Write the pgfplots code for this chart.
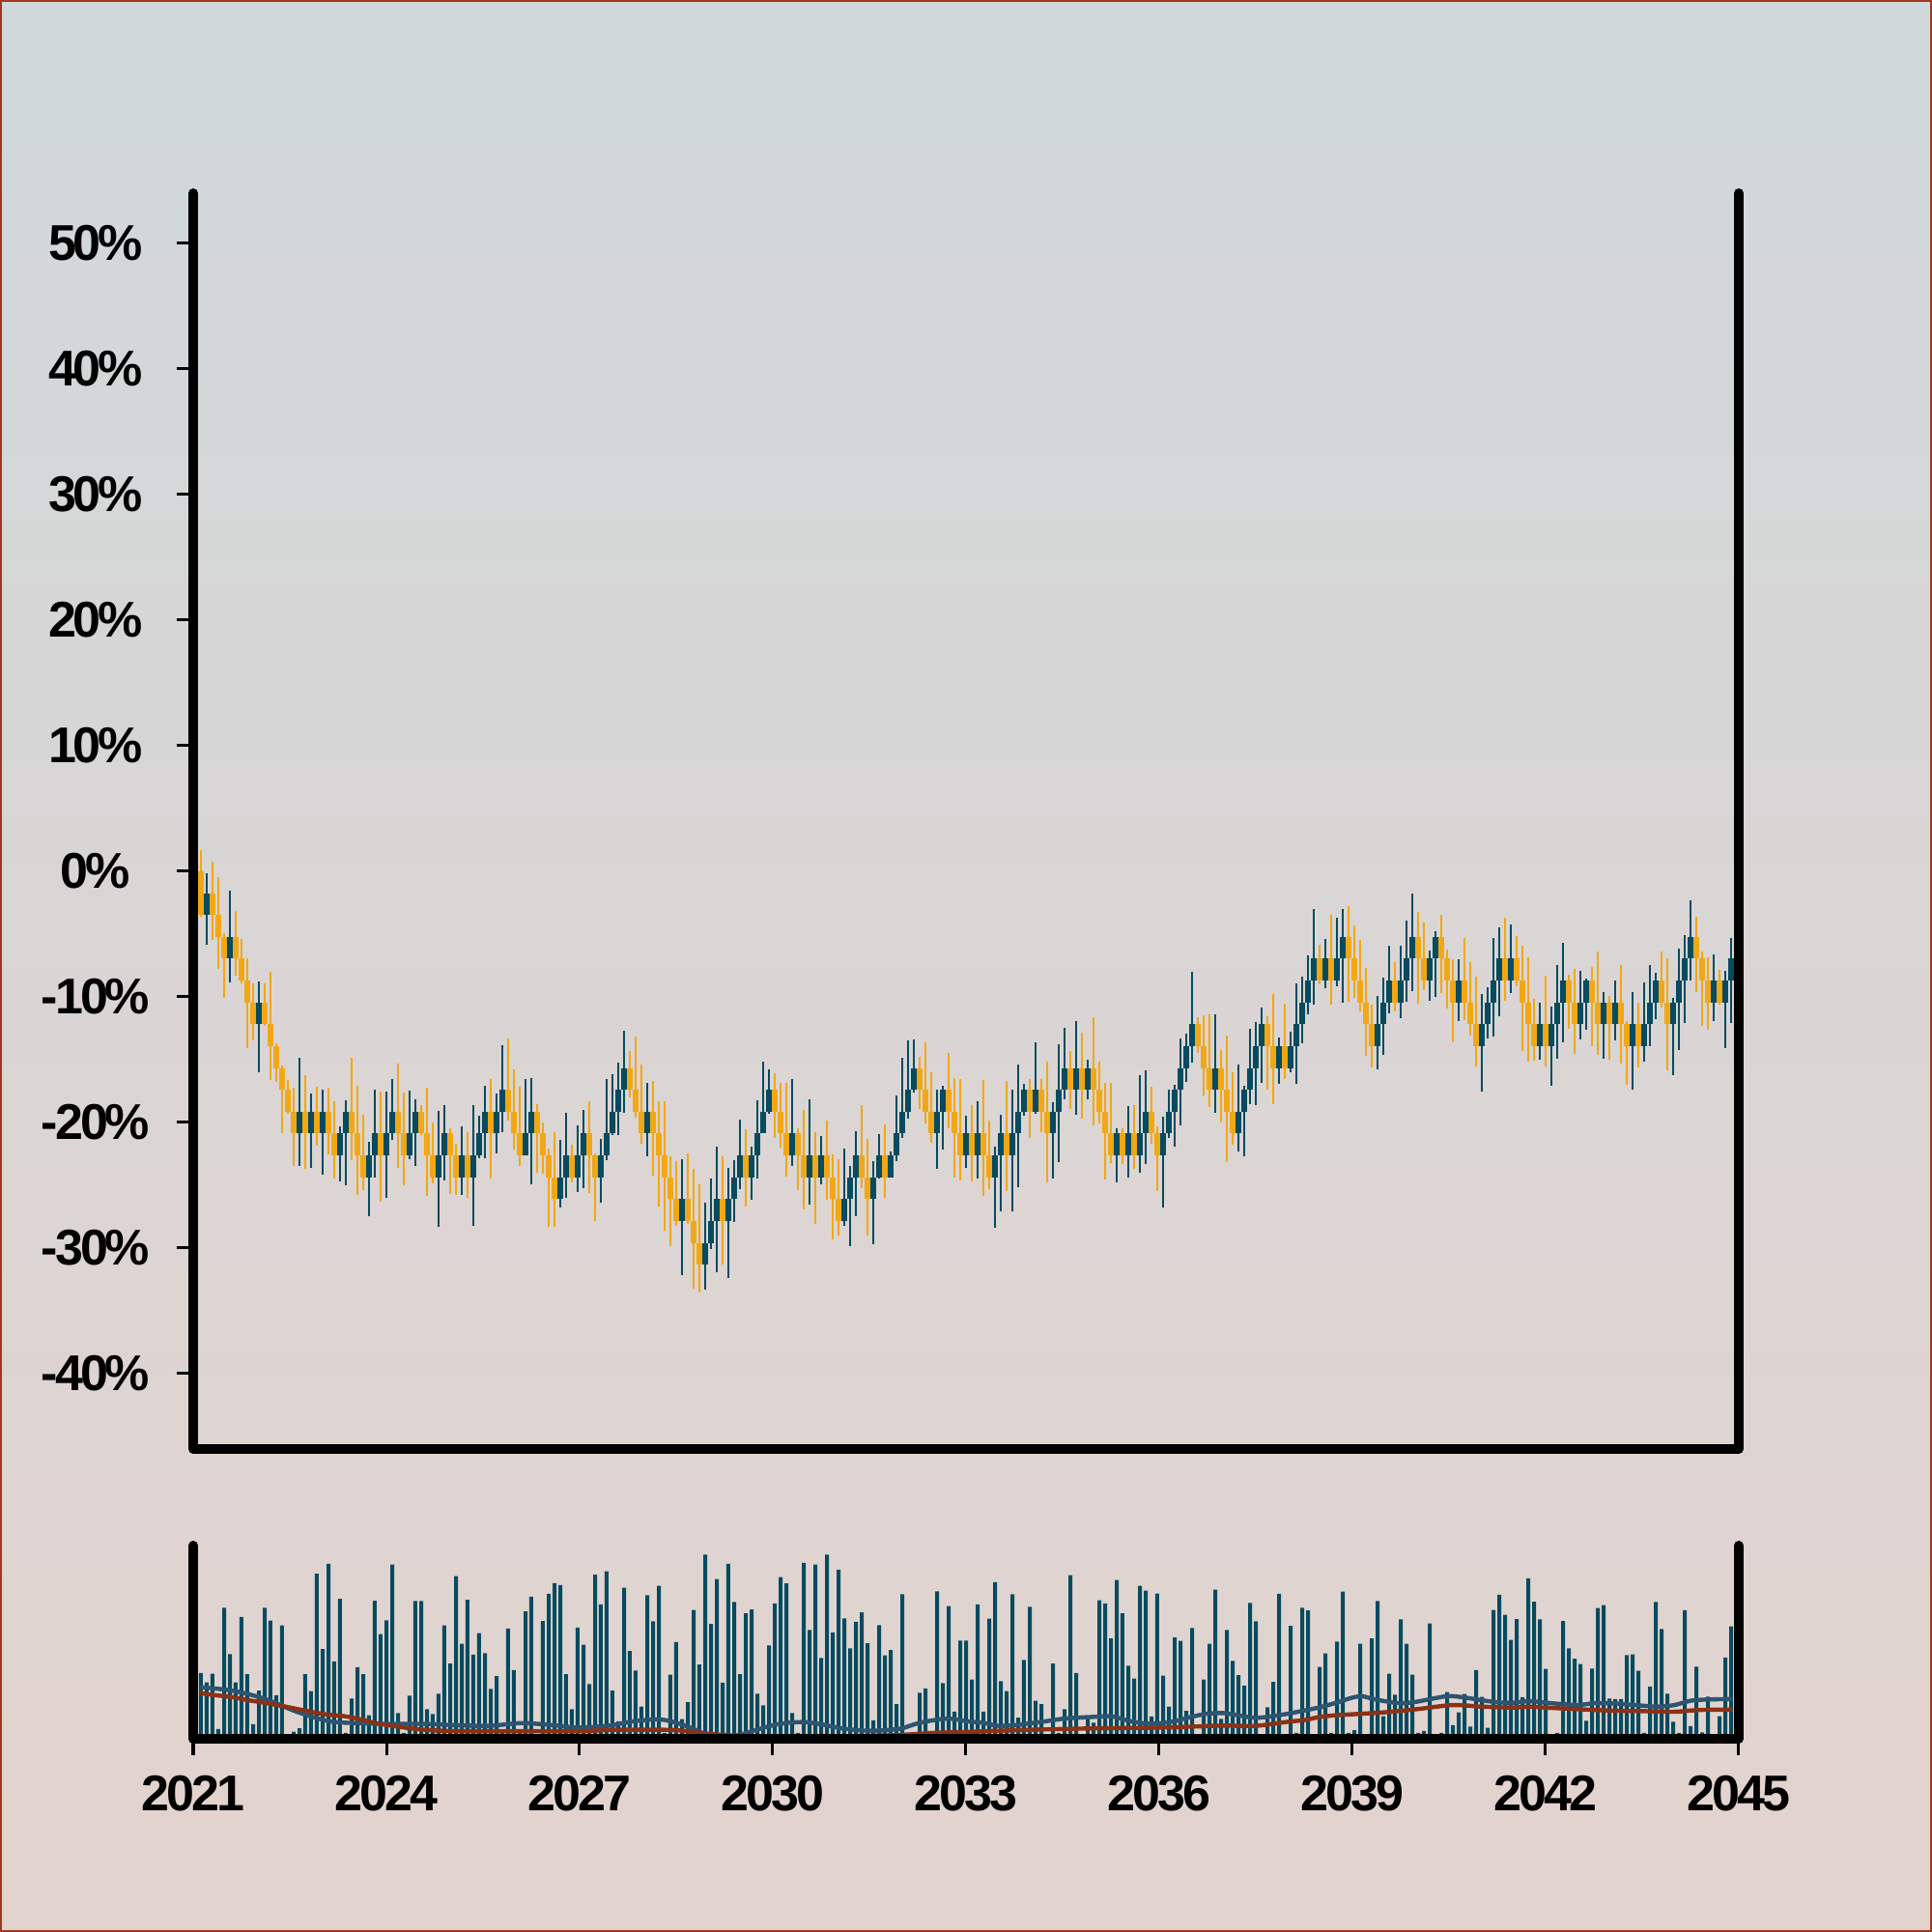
\documentclass[border=0pt]{standalone}
\usepackage{fontspec}
\newfontfamily\lblfont[LetterSpace=-6]{Liberation Sans}
\usepackage{pgfplots}
\usepackage{pgfplotstable}
\pgfplotsset{compat=1.18}

\definecolor{upC}{HTML}{064B5F}
\definecolor{downC}{HTML}{F2A714}
\definecolor{maBlue}{HTML}{2D5470}
\definecolor{maRust}{HTML}{8A3217}
\definecolor{bgTop}{HTML}{D0D8DB}
\definecolor{bgBot}{HTML}{E3D3CE}
\definecolor{bordC}{HTML}{9C3A1C}

% falling candles, wicks: j = period index, h l in percent
\pgfplotstableread[row sep=\\]{
j h l\\
0 1.69 -3.6\\ 2 0.80 -5.44\\ 3 -0.49 -7.80\\ 4 -4.9 -10.11\\ 6 -3.18 -8.31\\ 7 -5.36 -8.9\\ 8 -6.90 -14.09\\ 9 -8.96 -13.45\\
11 -8.96 -12.3\\ 12 -8.01 -16.65\\ 13 -13.7 -16.78\\ 14 -15.5 -20.84\\ 15 -16.65 -19.3\\ 16 -17.24 -23.45\\ 18 -16.22 -23.71\\ 20 -17.17 -21.86\\
22 -17.24 -22.56\\ 23 -18.27 -24.48\\ 26 -14.81 -22.99\\ 27 -17.04 -25.76\\ 28 -19.42 -25.38\\ 31 -17.55 -26.28\\ 34 -15.32 -23.63\\ 35 -17.6 -24.99\\
38 -18.63 -21.0\\ 39 -17.24 -25.81\\ 40 -19.99 -24.86\\ 43 -20.5 -25.69\\ 44 -21.66 -25.76\\ 46 -20.76 -26.02\\ 50 -16.53 -24.48\\ 53 -13.27 -19.86\\
54 -15.76 -22.17\\ 55 -17.17 -23.45\\ 58 -18.53 -24.02\\ 59 -19.99 -24.1\\ 60 -22.04 -28.33\\ 61 -20.76 -28.33\\ 64 -21.78 -24.74\\ 67 -18.32 -25.58\\
68 -22.5 -27.82\\ 74 -14.34 -18.0\\ 75 -13.19 -19.61\\ 76 -15.42 -21.66\\ 78 -16.7 -24.22\\ 79 -18.32 -26.71\\ 80 -18.32 -28.64\\ 81 -22.68 -29.87\\
82 -23.09 -28.25\\ 84 -22.48 -28.07\\ 85 -23.66 -33.21\\ 86 -24.92 -33.51\\ 90 -22.68 -31.33\\ 94 -20.55 -26.71\\ 99 -16.06 -21.2\\ 100 -16.86 -22.02\\
101 -16.83 -24.3\\ 103 -20.5 -25.38\\ 104 -19.01 -26.92\\ 106 -20.76 -28.07\\ 108 -19.81 -26.15\\ 109 -22.56 -29.28\\ 110 -22.89 -29.02\\ 114 -18.65 -25.2\\
115 -21.3 -28.97\\ 118 -20.17 -25.97\\ 124 -14.78 -18.9\\ 125 -13.58 -20.07\\ 126 -16.01 -21.61\\ 129 -14.47 -20.5\\ 130 -16.47 -24.35\\ 131 -16.53 -24.61\\
133 -18.65 -24.69\\ 135 -16.65 -25.81\\ 136 -19.81 -25.33\\ 139 -16.7 -25.45\\ 143 -16.57 -21.2\\ 145 -16.53 -20.76\\ 146 -15.19 -24.79\\ 150 -14.27 -18.96\\
152 -12.86 -19.68\\ 154 -11.6 -20.25\\ 155 -15.19 -20.07\\ 156 -16.83 -24.56\\ 157 -16.86 -23.2\\ 159 -20.5 -23.27\\ 161 -18.58 -23.66\\ 164 -17.17 -21.73\\
165 -20.32 -25.43\\ 172 -11.65 -14.47\\ 173 -11.45 -17.81\\ 174 -11.39 -18.78\\ 176 -14.22 -19.99\\ 177 -13.11 -23.12\\ 178 -16.01 -21.79\\ 184 -11.52 -17.37\\
185 -9.78 -18.53\\ 187 -10.55 -16.53\\ 193 -5.83 -9.01\\ 195 -3.5 -10.62\\ 198 -2.8 -10.37\\ 199 -4.29 -10.11\\ 200 -5.44 -11.14\\ 201 -7.72 -14.73\\
202 -10.62 -15.63\\ 206 -7.24 -11.19\\ 210 -3.2 -10.57\\ 211 -4.08 -9.47\\ 214 -3.5 -9.67\\ 215 -6.21 -10.93\\ 216 -7.03 -13.65\\ 218 -5.29 -11.86\\
219 -7.24 -13.06\\ 220 -8.37 -15.55\\ 225 -3.7 -10.32\\ 227 -5.18 -9.14\\ 228 -5.95 -14.34\\ 229 -6.85 -15.19\\ 230 -10.19 -15.06\\ 232 -8.32 -15.55\\
236 -8.26 -12.55\\ 237 -7.75 -14.52\\ 240 -7.62 -13.96\\ 241 -6.39 -14.6\\ 243 -9.9 -14.99\\ 245 -7.49 -15.29\\ 246 -11.91 -16.99\\ 248 -10.5 -15.63\\
252 -6.39 -10.88\\ 253 -6.95 -15.88\\ 258 -3.62 -9.6\\ 259 -6.39 -12.29\\ 260 -6.83 -12.6\\ 262 -7.85 -10.6\\
}\downW

% falling candles, bodies: lo = close, hi = open
\pgfplotstableread[row sep=\\]{
j lo hi\\
0 -3.48 0\\ 2 -3.48 -1.74\\ 3 -5.22 -3.48\\ 4 -6.96 -5.22\\ 6 -6.96 -5.22\\ 7 -8.70 -6.96\\ 8 -10.44 -8.70\\ 9 -12.18 -10.44\\
11 -12.18 -10.44\\ 12 -13.92 -12.18\\ 13 -15.66 -13.92\\ 14 -17.40 -15.66\\ 15 -19.14 -17.40\\ 16 -20.88 -19.14\\ 18 -20.88 -19.14\\ 20 -20.88 -19.14\\
22 -20.88 -19.14\\ 23 -22.62 -20.88\\ 26 -20.88 -19.14\\ 27 -22.62 -20.88\\ 28 -24.36 -22.62\\ 31 -22.62 -20.88\\ 34 -20.88 -19.14\\ 35 -22.62 -20.88\\
38 -20.88 -19.14\\ 39 -22.62 -20.88\\ 40 -24.36 -22.62\\ 43 -22.62 -20.88\\ 44 -24.36 -22.62\\ 46 -24.36 -22.62\\ 50 -20.88 -19.14\\ 53 -19.14 -17.40\\
54 -20.88 -19.14\\ 55 -22.62 -20.88\\ 58 -20.88 -19.14\\ 59 -22.62 -20.88\\ 60 -24.36 -22.62\\ 61 -26.10 -24.36\\ 64 -24.36 -22.62\\ 67 -22.62 -20.88\\
68 -24.36 -22.62\\ 74 -17.40 -15.66\\ 75 -19.14 -17.40\\ 76 -20.88 -19.14\\ 78 -20.88 -19.14\\ 79 -22.62 -20.88\\ 80 -24.36 -22.62\\ 81 -26.10 -24.36\\
82 -27.84 -26.10\\ 84 -27.84 -26.10\\ 85 -29.58 -27.84\\ 86 -31.32 -29.58\\ 90 -27.84 -26.10\\ 94 -24.36 -22.62\\ 99 -19.14 -17.40\\ 100 -20.88 -19.14\\
101 -22.62 -20.88\\ 103 -22.62 -20.88\\ 104 -24.36 -22.62\\ 106 -24.36 -22.62\\ 108 -24.36 -22.62\\ 109 -26.10 -24.36\\ 110 -27.84 -26.10\\ 114 -24.36 -22.62\\
115 -26.10 -24.36\\ 118 -24.36 -22.62\\ 124 -17.40 -15.66\\ 125 -19.14 -17.40\\ 126 -20.88 -19.14\\ 129 -19.14 -17.40\\ 130 -20.88 -19.14\\ 131 -22.62 -20.88\\
133 -22.62 -20.88\\ 135 -22.62 -20.88\\ 136 -24.36 -22.62\\ 139 -22.62 -20.88\\ 143 -19.14 -17.40\\ 145 -19.14 -17.40\\ 146 -20.88 -19.14\\ 150 -17.40 -15.66\\
152 -17.40 -15.66\\ 154 -17.40 -15.66\\ 155 -19.14 -17.40\\ 156 -20.88 -19.14\\ 157 -22.62 -20.88\\ 159 -22.62 -20.88\\ 161 -22.62 -20.88\\ 164 -20.88 -19.14\\
165 -22.62 -20.88\\ 172 -13.92 -12.18\\ 173 -15.66 -13.92\\ 174 -17.40 -15.66\\ 176 -17.40 -15.66\\ 177 -19.14 -17.40\\ 178 -20.88 -19.14\\ 184 -13.92 -12.18\\
185 -15.66 -13.92\\ 187 -15.66 -13.92\\ 193 -8.70 -6.96\\ 195 -8.70 -6.96\\ 198 -6.96 -5.22\\ 199 -8.70 -6.96\\ 200 -10.44 -8.70\\ 201 -12.18 -10.44\\
202 -13.92 -12.18\\ 206 -10.44 -8.70\\ 210 -6.96 -5.22\\ 211 -8.70 -6.96\\ 214 -6.96 -5.22\\ 215 -8.70 -6.96\\ 216 -10.44 -8.70\\ 218 -10.44 -8.70\\
219 -12.18 -10.44\\ 220 -13.92 -12.18\\ 225 -8.70 -6.96\\ 227 -8.70 -6.96\\ 228 -10.44 -8.70\\ 229 -12.18 -10.44\\ 230 -13.92 -12.18\\ 232 -13.92 -12.18\\
236 -10.44 -8.70\\ 237 -12.18 -10.44\\ 240 -10.44 -8.70\\ 241 -12.18 -10.44\\ 243 -12.18 -10.44\\ 245 -12.18 -10.44\\ 246 -13.92 -12.18\\ 248 -13.92 -12.18\\
252 -10.44 -8.70\\ 253 -12.18 -10.44\\ 258 -6.96 -5.22\\ 259 -8.70 -6.96\\ 260 -10.44 -8.70\\ 262 -10.44 -8.70\\
}\downB

% rising candles: j o c h l in percent
\pgfplotstableread[row sep=\\]{
j o c h l\\
1 -3.48 -1.74 -0.15 -5.88\\ 5 -6.96 -5.22 -1.51 -8.83\\ 10 -12.18 -10.44 -8.78 -16.01\\ 17 -20.88 -19.14 -14.81 -23.45\\
19 -20.88 -19.14 -17.68 -23.58\\ 21 -20.88 -19.14 -17.37 -24.15\\ 24 -22.62 -20.88 -20.32 -24.69\\ 25 -20.88 -19.14 -18.22 -24.99\\
29 -24.36 -22.62 -21.55 -27.43\\ 30 -22.62 -20.88 -17.42 -24.35\\ 32 -22.62 -20.88 -17.55 -26.02\\ 33 -20.88 -19.14 -16.53 -21.4\\
36 -22.62 -20.88 -17.5 -22.94\\ 37 -20.88 -19.14 -18.12 -23.45\\ 41 -24.36 -22.62 -19.09 -28.33\\ 42 -22.62 -20.88 -18.58 -24.61\\
45 -24.36 -22.62 -20.32 -25.76\\ 47 -24.36 -22.62 -18.58 -28.2\\ 48 -22.62 -20.88 -19.5 -22.81\\ 49 -20.88 -19.14 -17.04 -22.81\\
51 -20.88 -19.14 -17.68 -22.43\\ 52 -19.14 -17.40 -13.83 -20.76\\ 56 -22.62 -20.88 -16.53 -22.56\\ 57 -20.88 -19.14 -16.45 -24.92\\
62 -26.10 -24.36 -21.4 -26.79\\ 63 -24.36 -22.62 -19.22 -26.02\\ 65 -24.36 -22.62 -20.25 -25.51\\ 66 -22.62 -20.88 -19.0 -25.2\\
69 -24.36 -22.62 -21.27 -26.4\\ 70 -22.62 -20.88 -16.53 -23.0\\ 71 -20.88 -19.14 -16.19 -21.02\\ 72 -19.14 -17.40 -15.24 -21.02\\
73 -17.40 -15.66 -12.68 -19.22\\ 77 -20.88 -19.14 -16.86 -22.68\\ 83 -27.84 -26.10 -22.94 -32.18\\ 87 -31.32 -29.58 -26.35 -33.33\\
88 -29.58 -27.84 -24.48 -30.05\\ 89 -27.84 -26.10 -21.91 -31.92\\ 91 -27.84 -26.10 -23.58 -32.38\\ 92 -26.10 -24.36 -22.99 -27.89\\
93 -24.36 -22.62 -19.78 -25.33\\ 95 -24.36 -22.62 -21.91 -26.15\\ 96 -22.62 -20.88 -18.24 -24.48\\ 97 -20.88 -19.14 -15.17 -20.58\\
98 -19.14 -17.40 -15.76 -19.3\\ 102 -22.62 -20.88 -16.53 -23.45\\ 105 -24.36 -22.62 -18.12 -26.53\\ 107 -24.36 -22.62 -21.07 -24.92\\
111 -27.84 -26.10 -22.04 -28.2\\ 112 -26.10 -24.36 -23.45 -29.82\\ 113 -24.36 -22.62 -20.68 -27.43\\ 116 -26.10 -24.36 -23.07 -29.66\\
117 -24.36 -22.62 -20.94 -24.5\\ 119 -24.36 -22.62 -22.3 -24.4\\ 120 -22.62 -20.88 -17.81 -23.07\\ 121 -20.88 -19.14 -14.86 -21.2\\
122 -19.14 -17.40 -13.5 -19.73\\ 123 -17.40 -15.66 -13.37 -17.6\\ 127 -20.88 -19.14 -17.42 -23.66\\ 128 -19.14 -17.40 -17.09 -22.17\\
132 -22.62 -20.88 -19.5 -23.6\\ 134 -22.62 -20.88 -18.27 -24.48\\ 137 -24.36 -22.62 -21.91 -28.38\\ 138 -22.62 -20.88 -19.42 -27.05\\
140 -22.62 -20.88 -17.37 -27.05\\ 141 -20.88 -19.14 -15.37 -25.12\\ 142 -19.14 -17.40 -16.96 -19.5\\ 144 -19.14 -17.40 -13.63 -19.27\\
147 -20.88 -19.14 -18.37 -24.43\\ 148 -19.14 -17.40 -13.75 -23.12\\ 149 -17.40 -15.66 -12.47 -18.12\\ 151 -17.40 -15.66 -11.96 -19.35\\
153 -17.40 -15.66 -14.99 -18.19\\ 158 -22.62 -20.88 -20.5 -24.79\\ 160 -22.62 -20.88 -18.71 -24.35\\ 162 -22.62 -20.88 -16.22 -24.02\\
163 -20.88 -19.14 -15.88 -23.33\\ 166 -22.62 -20.88 -19.55 -26.79\\ 167 -20.88 -19.14 -17.37 -21.22\\ 168 -19.14 -17.40 -16.99 -21.91\\
169 -17.40 -15.66 -13.27 -20.25\\ 170 -15.66 -13.92 -12.9 -16.8\\ 171 -13.92 -12.18 -8.0 -15.24\\ 175 -17.40 -15.66 -11.39 -19.22\\
179 -20.88 -19.14 -15.37 -22.3\\ 180 -19.14 -17.40 -17.09 -22.68\\ 181 -17.40 -15.66 -12.55 -18.53\\ 182 -15.66 -13.92 -11.98 -18.58\\
183 -13.92 -12.18 -10.83 -16.83\\ 186 -15.66 -13.92 -13.24 -16.91\\ 188 -15.66 -13.92 -12.8 -16.01\\ 189 -13.92 -12.18 -8.96 -16.91\\
190 -12.18 -10.44 -8.37 -13.71\\ 191 -10.44 -8.70 -6.7 -11.39\\ 192 -8.70 -6.96 -3.0 -10.62\\ 194 -8.70 -6.96 -5.42 -9.34\\
196 -8.70 -6.96 -3.7 -9.14\\ 197 -6.96 -5.22 -3.0 -10.49\\ 203 -13.92 -12.18 -9.93 -15.76\\ 204 -12.18 -10.44 -8.49 -14.65\\
205 -10.44 -8.70 -5.93 -11.27\\ 207 -10.44 -8.70 -5.9 -11.73\\ 208 -8.70 -6.96 -3.95 -10.37\\ 209 -6.96 -5.22 -1.8 -9.55\\
212 -8.70 -6.96 -6.34 -10.32\\ 213 -6.96 -5.22 -4.8 -9.98\\ 217 -10.44 -8.70 -7.03 -11.91\\ 221 -13.92 -12.18 -9.78 -17.55\\
222 -12.18 -10.44 -9.21 -13.32\\ 223 -10.44 -8.70 -5.31 -13.19\\ 224 -8.70 -6.96 -4.46 -11.52\\ 226 -8.70 -6.96 -4.26 -9.73\\
231 -13.92 -12.18 -10.5 -15.0\\ 233 -13.92 -12.18 -10.75 -17.04\\ 234 -12.18 -10.44 -7.47 -14.91\\ 235 -10.44 -8.70 -5.7 -13.58\\
238 -12.18 -10.44 -7.93 -13.39\\ 239 -10.44 -8.70 -8.57 -12.62\\ 242 -12.18 -10.44 -9.65 -14.93\\ 244 -12.18 -10.44 -8.7 -13.45\\
247 -13.92 -12.18 -9.6 -17.42\\ 249 -13.92 -12.18 -8.88 -15.19\\ 250 -12.18 -10.44 -7.49 -13.91\\ 251 -10.44 -8.70 -8.11 -11.78\\
254 -12.18 -10.44 -10.11 -16.22\\ 255 -10.44 -8.70 -6.13 -14.22\\ 256 -8.70 -6.96 -5.11 -12.11\\ 257 -6.96 -5.22 -2.28 -8.7\\
261 -10.44 -8.70 -6.65 -11.91\\ 263 -10.44 -8.70 -7.93 -14.09\\ 264 -8.70 -6.96 -5.29 -12.09\\
}\upT

% volume per period
\pgfplotstableread[row sep=\\]{
j v\\
0 33.6\\ 1 28.7\\ 2 33.2\\ 3 5\\ 4 66.8\\ 5 43.2\\ 6 28.7\\ 7 62.1\\ 8 32.9\\ 9 7.4\\ 10 24.6\\ 11 66.8\\ 12 60.3\\ 13 22.2\\ 14 57.8\\
15 2\\ 16 3.6\\ 17 5.4\\ 18 32.9\\ 19 24.3\\ 20 84.1\\ 21 45.7\\ 22 89.2\\ 23 39.4\\ 24 71.3\\ 25 3\\ 26 20.5\\ 27 36.5\\ 28 32.9\\ 29 12.0\\
30 70.4\\ 31 53.4\\ 32 60.4\\ 33 88.8\\ 34 13.1\\ 35 3\\ 36 22.0\\ 37 70.2\\ 38 70.2\\ 39 15.1\\ 40 12.6\\ 41 23.0\\ 42 57.8\\ 43 38.4\\ 44 82.9\\
45 48.4\\ 46 70.9\\ 47 42.9\\ 48 53.9\\ 49 43.7\\ 50 25.4\\ 51 32.0\\ 52 3\\ 53 56.2\\ 54 35.0\\ 55 3\\ 56 64.9\\ 57 72.4\\ 58 2\\ 59 60.0\\
60 73.9\\ 61 79.3\\ 62 78.3\\ 63 32.9\\ 64 15.1\\ 65 56.7\\ 66 47.9\\ 67 27.9\\ 68 83.7\\ 69 68.5\\ 70 85.4\\ 71 24.6\\ 72 8.9\\ 73 77.0\\ 74 44.8\\
75 34.8\\ 76 16.4\\ 77 73.2\\ 78 59.9\\ 79 78.0\\ 80 3\\ 81 32.7\\ 82 49.3\\ 83 10.0\\ 84 18.6\\ 85 65.7\\ 86 37.8\\ 87 93.9\\ 88 58.5\\ 89 81.4\\
90 28.6\\ 91 89.2\\ 92 69.8\\ 93 32.9\\ 94 63.9\\ 95 65.9\\ 96 23.0\\ 97 17.1\\ 98 47.6\\ 99 69.0\\ 100 82.4\\ 101 79.2\\ 102 13.1\\ 103 3\\ 104 89.7\\
105 55.5\\ 106 88.8\\ 107 41.2\\ 108 93.9\\ 109 54.2\\ 110 86.2\\ 111 61.4\\ 112 46.1\\ 113 59.6\\ 114 64.4\\ 115 48.7\\ 116 9.4\\ 117 57.9\\ 118 42.5\\ 119 45.2\\
120 17.7\\ 121 73.7\\ 122 2\\ 123 3\\ 124 23.4\\ 125 25.7\\ 126 3\\ 127 75.2\\ 128 28.4\\ 129 67.6\\ 130 13.9\\ 131 50.1\\ 132 50.1\\ 133 30.2\\ 134 68.5\\
135 13.9\\ 136 61.2\\ 137 79.8\\ 138 29.4\\ 139 24.3\\ 140 73.7\\ 141 10.8\\ 142 40.2\\ 143 67.3\\ 144 19.4\\ 145 17.7\\ 146 2\\ 147 38.4\\ 148 3\\ 149 15.1\\
150 83.4\\ 151 33.6\\ 152 2\\ 153 11.5\\ 154 8.2\\ 155 70.6\\ 156 69.0\\ 157 51.1\\ 158 80.9\\ 159 63.9\\ 160 37.3\\ 161 30.7\\ 162 78.0\\ 163 75.5\\ 164 11.4\\
165 74.0\\ 166 32.2\\ 167 16.4\\ 168 51.7\\ 169 49.9\\ 170 14.2\\ 171 56.5\\ 172 2\\ 173 30.2\\ 174 48.4\\ 175 76.0\\ 176 10.2\\ 177 55.5\\ 178 39.7\\ 179 32.4\\
180 27.1\\ 181 69.3\\ 182 59.9\\ 183 2\\ 184 16.1\\ 185 29.0\\ 186 73.9\\ 187 2\\ 188 57.6\\ 189 3\\ 190 66.8\\ 191 65.4\\ 192 2\\ 193 36.6\\ 194 43.5\\
195 3\\ 196 49.6\\ 197 75.0\\ 198 3\\ 199 4.4\\ 200 48.4\\ 201 2\\ 202 51.1\\ 203 70.2\\ 204 11.5\\ 205 33.2\\ 206 22.5\\ 207 60.9\\ 208 48.4\\ 209 32.7\\
210 3\\ 211 4\\ 212 58.8\\ 213 2\\ 214 3\\ 215 23.8\\ 216 6.9\\ 217 13.5\\ 218 22.8\\ 219 6.2\\ 220 35.0\\ 221 21.4\\ 222 5.6\\ 223 65.7\\ 224 73.4\\
225 63.2\\ 226 50.4\\ 227 61.0\\ 228 21.2\\ 229 81.8\\ 230 69.9\\ 231 60.9\\ 232 35.6\\ 233 2\\ 234 3\\ 235 60.0\\ 236 46.1\\ 237 40.8\\ 238 38.1\\ 239 9.2\\
240 35.8\\ 241 66.7\\ 242 68.1\\ 243 20.5\\ 244 20.2\\ 245 20.2\\ 246 42.7\\ 247 43.0\\ 248 34.7\\ 249 3\\ 250 26.6\\ 251 69.8\\ 252 56.0\\ 253 23.0\\ 254 8.7\\
255 3\\ 256 65.6\\ 257 6.4\\ 258 36.8\\ 259 3.3\\ 260 21.5\\ 261 2\\ 262 11.5\\ 263 41.4\\ 264 57.3\\
}\volT

\pgfplotsset{
  lbl/.style={font=\lblfont\bfseries\fontsize{13pt}{13pt}\selectfont},
  panel/.style={scale only axis, width=400pt, xmin=2021, xmax=2045,
    axis lines=left, axis line style={draw=none}, clip=false,
    tick align=outside, major tick length=4.25pt,
    every tick/.style={black, line width=0.75pt}},
  % vertical bar from y up by v, drawn as an arrowless quiver segment
  stick/.style 2 args={no markers, forget plot, draw=#1, line width=#2, -,
    quiver/every arrow/.style={draw=#1, line width=#2, -}},
}

\begin{document}
\begin{tikzpicture}[x=1pt, y=1pt]
\path[use as bounding box] (0,0) rectangle (500,500);
\shade[top color=bgTop, bottom color=bgBot] (0,0) rectangle (500,500);
\draw[bordC, line width=0.4pt] (0.2,0.2) rectangle (499.8,499.8);

% price panel
\begin{axis}[panel, at={(50pt,125pt)}, anchor=south west, height=325pt,
  ymin=-46, ymax=54,
  xtick=\empty,
  ytick={-40,-30,...,50},
  yticklabels={-40\%,-30\%,-20\%,-10\%,0\%,10\%,20\%,30\%,40\%,50\%},
  yticklabel style={lbl, anchor=center, inner sep=0pt, xshift=-21pt},
]
% wicks: low to high
\addplot[stick={downC}{0.45pt}, quiver={u=0, v=\thisrow{h}-\thisrow{l}}]
  table[x expr=2021.12+0.09*\thisrow{j}, y=l] {\downW};
\addplot[stick={upC}{0.45pt}, quiver={u=0, v=\thisrow{h}-\thisrow{l}}]
  table[x expr=2021.12+0.09*\thisrow{j}, y=l] {\upT};
% bodies
\addplot[stick={downC}{1.5pt}, quiver={u=0, v=\thisrow{hi}-\thisrow{lo}}]
  table[x expr=2021.12+0.09*\thisrow{j}, y=lo] {\downB};
\addplot[stick={upC}{1.5pt}, quiver={u=0, v=\thisrow{c}-\thisrow{o}}]
  table[x expr=2021.12+0.09*\thisrow{j}, y=o] {\upT};
\draw[line width=2.5pt, line cap=round, line join=round]
  (rel axis cs:0,1) -- (rel axis cs:0,0) -- (rel axis cs:1,0) -- (rel axis cs:1,1);
\end{axis}

% volume panel
\begin{axis}[panel, at={(50pt,50pt)}, anchor=south west, height=50pt,
  ymin=0, ymax=98.5,
  ytick=\empty,
  xtick={2021,2024,...,2045},
  xticklabels={2021,2024,2027,2030,2033,2036,2039,2042,2045},
  xticklabel style={lbl, anchor=north, inner sep=0pt, yshift=-5pt},
]
\addplot[ybar, bar width=1pt, fill=upC, draw=none]
  table[x expr=2021.12+0.09*\thisrow{j}, y=v] {\volT};
\addplot[smooth, line width=1.1pt, color=maBlue] coordinates {
(2021.10,26.3)(2021.60,24.6)(2022.10,20.5)(2022.60,13.9)(2023.10,9.0)(2023.60,7.9)(2024.10,7.6)
(2024.60,7.6)(2025.10,6.9)(2025.60,6.6)(2026.10,8.0)(2026.60,6.9)(2027.00,5.7)(2027.50,6.9)
(2027.75,8.5)(2028.00,9.5)(2028.25,9.9)(2028.50,8.2)(2028.75,5.3)(2029.00,2.0)(2029.40,1.5)
(2029.75,4.6)(2030.00,6.9)(2030.25,8.2)(2030.50,8.5)(2030.75,7.4)(2031.00,5.7)(2031.25,4.6)
(2031.50,4.1)(2031.75,4.4)(2032.00,5.3)(2032.25,7.9)(2032.50,9.5)(2032.75,10.3)(2033.00,9.0)
(2033.25,8.2)(2033.50,6.6)(2033.75,6.9)(2034.00,7.9)(2034.25,9.0)(2034.50,10.2)(2034.75,10.8)
(2035.00,11.2)(2035.25,11.5)(2035.50,9.4)(2035.75,7.9)(2036.00,7.9)(2036.25,9.0)(2036.50,11.2)
(2036.75,12.8)(2037.00,13.1)(2037.25,11.8)(2037.50,10.7)(2037.75,11.5)(2038.00,12.8)(2038.25,14.4)
(2038.50,16.1)(2038.75,18.4)(2039.00,21.0)(2039.15,21.7)(2039.30,20.5)(2039.50,19.2)(2039.75,18.1)
(2040.00,18.9)(2040.25,20.5)(2040.50,21.8)(2040.75,21.0)(2041.00,19.7)(2041.25,18.6)(2041.50,18.4)
(2041.75,19.2)(2042.00,18.4)(2042.25,17.7)(2042.50,17.2)(2042.75,18.1)(2043.00,18.1)(2043.25,17.6)
(2043.50,16.9)(2043.75,16.4)(2044.00,17.2)(2044.25,19.4)(2044.50,20.0)(2044.90,20.3)
};
\addplot[smooth, line width=1.1pt, color=maRust] coordinates {
(2021.10,23.3)(2021.35,22.2)(2021.60,21.3)(2021.85,19.7)(2022.10,18.4)(2022.35,16.9)(2022.60,15.3)
(2022.85,13.6)(2023.10,12.3)(2023.35,11.5)(2023.60,9.9)(2023.85,7.9)(2024.10,6.6)(2024.35,5.4)
(2024.60,4.6)(2024.85,4.1)(2025.10,3.9)(2026.00,3.9)(2027.00,3.9)(2027.50,4.6)(2028.00,4.6)
(2028.50,4.4)(2029.00,2.5)(2029.50,1.5)(2030.00,1.2)(2030.50,1.2)(2031.00,1.2)(2031.50,1.5)
(2032.00,2.0)(2032.50,3.0)(2033.00,3.5)(2034.00,4.6)(2035.00,5.3)(2036.00,5.7)(2036.50,6.2)
(2037.00,6.7)(2037.50,6.6)(2038.00,8.7)(2038.25,9.5)(2038.50,11.2)(2038.75,12.0)(2039.00,12.5)
(2039.50,13.5)(2040.00,15.1)(2040.50,17.1)(2040.75,17.0)(2041.00,16.4)(2041.50,15.9)(2041.75,16.4)
(2042.00,15.9)(2042.50,15.1)(2043.00,14.4)(2043.50,14.1)(2044.00,13.8)(2044.25,14.4)(2044.50,14.8)
(2044.90,14.8)
};
\draw[line width=2.5pt, line cap=round, line join=round]
  (rel axis cs:0,1) -- (rel axis cs:0,0) -- (rel axis cs:1,0) -- (rel axis cs:1,1);
\end{axis}
\end{tikzpicture}
\end{document}
